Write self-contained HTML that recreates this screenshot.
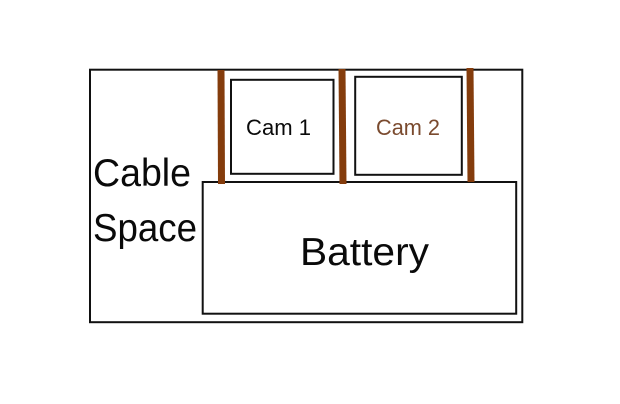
<!DOCTYPE html>
<html>
<head>
<meta charset="utf-8">
<style>
html,body{margin:0;padding:0;background:#fff;width:620px;height:404px;overflow:hidden}
svg{display:block}
text{font-family:"Liberation Sans",sans-serif;fill:#0a0a0a}
</style>
</head>
<body>
<svg width="620" height="404" viewBox="0 0 620 404" xmlns="http://www.w3.org/2000/svg">
<rect width="620" height="404" fill="#fff"/>
<rect x="90" y="69.7" width="432.3" height="252.5" fill="none" stroke="#111" stroke-width="2"/>
<rect x="202.7" y="182" width="313.5" height="131.7" fill="none" stroke="#111" stroke-width="2"/>
<rect x="231" y="79.8" width="102.5" height="94" fill="none" stroke="#111" stroke-width="2"/>
<rect x="355.2" y="76.8" width="106.6" height="98" fill="none" stroke="#111" stroke-width="2"/>
<line x1="221" y1="70" x2="221.5" y2="184" stroke="#843c0c" stroke-width="7"/>
<line x1="342" y1="69" x2="343" y2="184" stroke="#843c0c" stroke-width="7"/>
<line x1="470" y1="68" x2="471" y2="182" stroke="#843c0c" stroke-width="7"/>
<text x="246" y="135" font-size="22" textLength="65" lengthAdjust="spacingAndGlyphs">Cam 1</text>
<text x="376" y="135" font-size="22" textLength="64" lengthAdjust="spacingAndGlyphs" style="fill:#7a4a2e">Cam 2</text>
<text x="93" y="186" font-size="39" textLength="98" lengthAdjust="spacingAndGlyphs">Cable</text>
<text x="93" y="241" font-size="39" textLength="104" lengthAdjust="spacingAndGlyphs">Space</text>
<text x="300" y="265" font-size="39" textLength="129" lengthAdjust="spacingAndGlyphs">Battery</text>
</svg>
</body>
</html>
